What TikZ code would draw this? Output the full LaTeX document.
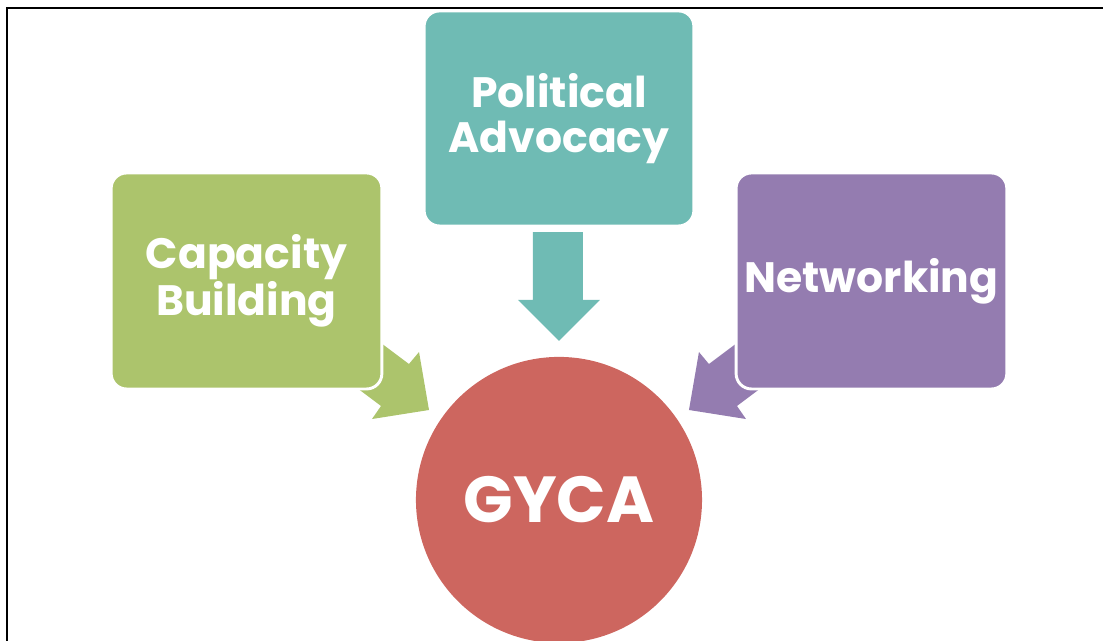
\documentclass[tikz,border=0pt]{standalone}
\usepackage{fontspec}
\setmainfont{Poppins}
\usepackage[svgnames]{xcolor}
\usepackage{tikz}
\usetikzlibrary{shapes.geometric}
\tikzset{areabox/.style={shape=rectangle,rounded corners=0.16in,draw=white,line width=2.2pt,text=white,font=\bfseries\fontsize{32}{34}\selectfont,align=center,minimum width=2.82in,minimum height=2.25in}}
\tikzset{hubcircle/.style={shape=circle,inner sep=0pt,text=white,font=\bfseries\fontsize{49}{49}\selectfont}}

\begin{document}
\begin{tikzpicture}

\useasboundingbox (0in,0in) rectangle (11.49in,-6.667in);

\draw [line width=1.9pt] (0.073in,-6.7in) -- (0.073in,-0.083in) -- (11.6in,-0.083in);

% block arrows, drawn first so the boxes sit on top
\fill [fill={rgb,255:red,111;green,187;blue,180}] (5.552in,-2.417in) -- (6.073in,-2.417in) -- (6.073in,-3.125in) -- (6.25in,-3.125in) -- (5.823in,-3.552in) -- (5.396in,-3.125in) -- (5.552in,-3.125in) -- cycle;

\fill [fill={rgb,255:red,172;green,196;blue,108}] (3.677in,-3.354in) -- (4.26in,-3.792in) -- (4.365in,-3.667in) -- (4.469in,-4.271in) -- (3.875in,-4.365in) -- (3.969in,-4.229in) -- (3.385in,-3.792in) -- cycle;

\fill [fill={rgb,255:red,148;green,124;blue,176}] (7.969in,-3.354in) -- (7.385in,-3.792in) -- (7.281in,-3.667in) -- (7.177in,-4.271in) -- (7.771in,-4.365in) -- (7.677in,-4.229in) -- (8.26in,-3.792in) -- cycle;

\path (5.823in,-1.234in) node (political) [areabox,fill={rgb,255:red,111;green,187;blue,180},minimum width=2.81in,minimum height=2.24in]{Political\\Advocacy};

\path (2.568in,-2.927in) node (capacity) [areabox,fill={rgb,255:red,172;green,196;blue,108}]{Capacity\\Building};

\path (9.078in,-2.927in) node (networking) [areabox,fill={rgb,255:red,148;green,124;blue,176}]{Networking};

\path (5.823in,-5.208in) node (gyca) [hubcircle,fill={rgb,255:red,205;green,102;blue,95},minimum size=2.98in]{GYCA};

\end{tikzpicture}
\end{document}
